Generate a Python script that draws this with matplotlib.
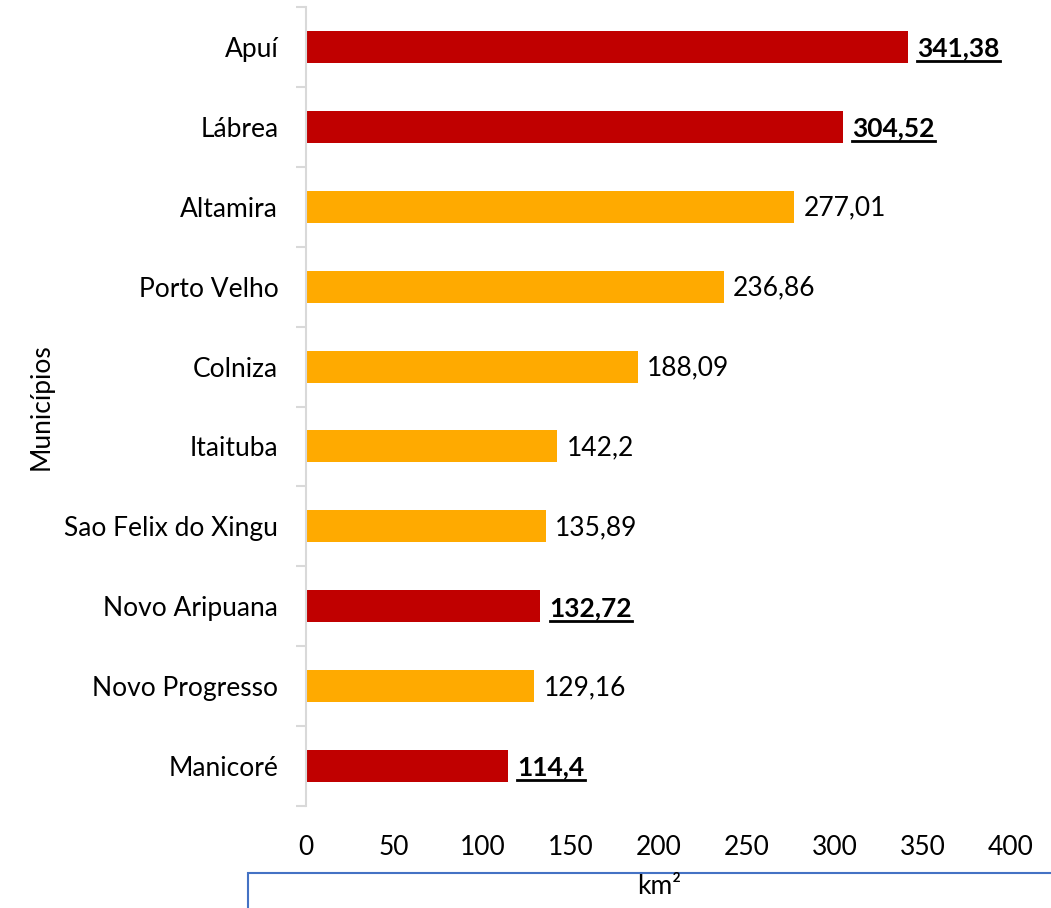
import matplotlib
matplotlib.use("Agg")
import matplotlib.pyplot as plt
from matplotlib.lines import Line2D
from matplotlib.patches import Rectangle
import numpy as np

plt.rcParams['font.family'] = ['Lato', 'DejaVu Sans']

# dados (de baixo para cima)
municipios = ["Manicoré", "Novo Progresso", "Novo Aripuana", "Sao Felix do Xingu",
              "Itaituba", "Colniza", "Porto Velho", "Altamira", "Lábrea", "Apuí"]
area_km2 = [114.4, 129.16, 132.72, 135.89, 142.2, 188.09, 236.86, 277.01, 304.52, 341.38]
destaque = [True, False, True, False, False, False, False, False, True, True]
rotulos = ["114,4", "129,16", "132,72", "135,89", "142,2", "188,09",
           "236,86", "277,01", "304,52", "341,38"]
xticks = [0, 50, 100, 150, 200, 250, 300, 350, 400]

vermelho = "#C00000"
laranja = "#FFAA00"
fs = 19

fig = plt.figure(figsize=(10.51, 9.08), dpi=100)
ax = fig.add_axes([0.2912, 0.1123, 0.6708, 0.88])

y = np.arange(len(municipios))
cores = [vermelho if d else laranja for d in destaque]
ax.barh(y, area_km2, height=0.4, color=cores, zorder=2)

ax.set_xlim(0, 400)
ax.set_ylim(-0.5, len(municipios) - 0.5)
ax.set_yticks(y)
ax.set_yticklabels(municipios, fontsize=fs)
ax.set_yticks(np.arange(-0.5, len(municipios), 1), minor=True)
ax.tick_params(axis='y', which='major', length=0, pad=20)
ax.tick_params(axis='y', which='minor', length=7, width=1.5, color="#D9D9D9", direction='out')
ax.set_xticks(xticks)
ax.set_xticklabels([str(t) for t in xticks], fontsize=fs)
ax.tick_params(axis='x', length=0, pad=21)

for s in ['top', 'right', 'bottom']:
    ax.spines[s].set_visible(False)
ax.spines['left'].set_color("#D9D9D9")
ax.spines['left'].set_linewidth(1.5)

ax.set_ylabel("Municípios", fontsize=fs, labelpad=8)
fig.text(0.627, 0.024, "km²", fontsize=fs, ha='center', va='center')

textos = []
for yi, v, r, d in zip(y, area_km2, rotulos, destaque):
    t = ax.annotate(r, (v, yi), xytext=(7, -1), textcoords='offset points',
                    va='center', ha='left', fontsize=fs,
                    fontweight='bold' if d else 'normal')
    if d:
        textos.append(t)

# sublinhado dos rótulos em destaque
fig.canvas.draw()
W, H = fig.get_size_inches() * fig.dpi
for t in textos:
    bb = t.get_window_extent()
    yl = (bb.y0 - 1) / H
    fig.add_artist(Line2D([bb.x0 / W, bb.x1 / W], [yl, yl], color="black", lw=2))

# caixa azul parcialmente visível embaixo
fig.add_artist(Rectangle((248 / W, -0.1), 1.0, 0.1 + (908 - 873) / H,
                         transform=fig.transFigure, fill=False,
                         edgecolor="#4472C4", lw=1.5, zorder=0))

fig.savefig("out.png", dpi=100)
